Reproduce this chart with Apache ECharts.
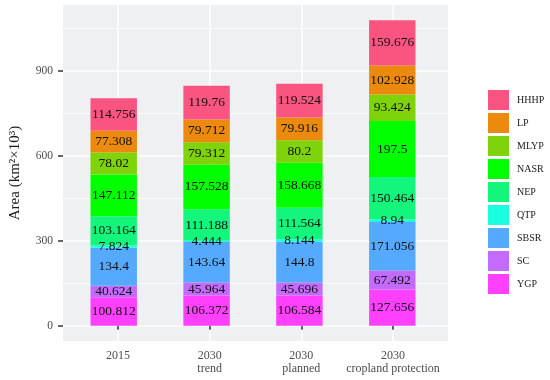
<!DOCTYPE html>
<html>
<head>
<meta charset="utf-8">
<script src="https://cdn.jsdelivr.net/npm/echarts@6/dist/echarts.min.js"></script>
<style>html,body{margin:0;padding:0;background:#fff}#c{width:550px;height:380px}</style>
</head>
<body>
<div id="c"></div>
<script>
const categories = ['2015', '2030\ntrend', '2030\nplanned', '2030\ncropland protection'];
const yTicks = [0, 300, 600, 900];
const yMinor = [150, 450, 750, 1050];
// stack order bottom -> top
const YGP  = [100.812, 106.372, 106.584, 127.656];
const SC   = [40.624, 45.964, 45.696, 67.492];
const SBSR = [134.4, 143.64, 144.8, 171.056];
const QTP  = [7.824, 4.444, 8.144, 8.94];
const NEP  = [103.164, 111.188, 111.564, 150.464];
const NASR = [147.112, 157.528, 158.668, 197.5];
const MLYP = [78.02, 79.312, 80.2, 93.424];
const LP   = [77.308, 79.712, 79.916, 102.928];
const HHHP = [114.756, 119.76, 119.524, 159.676];

const seriesDefs = [
  ['YGP', YGP, '#FF40FF'],
  ['SC', SC, '#C46BFF'],
  ['SBSR', SBSR, '#55AAFF'],
  ['QTP', QTP, '#1AFFE0'],
  ['NEP', NEP, '#14F57C'],
  ['NASR', NASR, '#00FF00'],
  ['MLYP', MLYP, '#7ED30A'],
  ['LP', LP, '#EB8A0C'],
  ['HHHP', HHHP, '#FA5480']
];

const serif = "'Liberation Serif', 'DejaVu Serif', serif";
const totals = categories.map((c, i) => seriesDefs.reduce((s, d) => s + d[1][i], 0));
const maxT = Math.max(...totals);
const yMin = -0.05 * maxT, yMax = maxT * 1.05;

// panel geometry (ggplot-like discrete expansion of 0.6 on each side)
const P = { left: 58, right: 102, top: 5, bottom: 39 };
const panelW = 550 - P.left - P.right;
const band = panelW / (categories.length + 0.2);
const inset = 0.1 * band;

const chart = echarts.init(document.getElementById('c'));
chart.setOption({
  animation: false,
  backgroundColor: '#fff',
  grid: [
    { left: P.left, right: P.right, top: P.top, bottom: P.bottom, show: true, backgroundColor: '#EEF0F1', borderWidth: 0 },
    { left: P.left + inset, right: P.right + inset, top: P.top, bottom: P.bottom }
  ],
  xAxis: [{
    gridIndex: 0, type: 'value', min: 0.4, max: 4.6,
    axisLine: { show: false },
    axisTick: { show: true, length: 4, lineStyle: { color: '#333', width: 1.5 }, customValues: [1, 2, 3, 4] },
    axisLabel: { customValues: [1, 2, 3, 4], formatter: v => categories[Math.round(v) - 1], color: '#4D4D4D', fontFamily: serif, fontSize: 12, lineHeight: 13, margin: 8 },
    splitLine: { show: true, lineStyle: { color: '#fff', width: 1.5 } }
  }, {
    gridIndex: 1, type: 'category', data: categories,
    axisLine: { show: false }, axisTick: { show: false }, axisLabel: { show: false }, splitLine: { show: false }
  }],
  yAxis: [{
    gridIndex: 0, type: 'value', min: yMin, max: yMax,
    name: 'Area (km²×10³)', nameLocation: 'middle', nameGap: 40,
    nameTextStyle: { fontFamily: serif, fontSize: 15, color: '#1a1a1a' },
    axisLine: { show: false },
    axisTick: { show: true, length: 5, lineStyle: { color: '#333', width: 1.5 }, customValues: yTicks },
    axisLabel: { customValues: yTicks, color: '#4D4D4D', fontFamily: serif, fontSize: 11.5, margin: 10 },
    splitLine: { show: true, lineStyle: { color: '#fff', width: 1.5 } }
  }, {
    gridIndex: 0, type: 'value', min: yMin, max: yMax, position: 'left',
    axisLine: { show: false },
    axisTick: { show: false, customValues: yMinor },
    axisLabel: { show: false, customValues: yMinor },
    splitLine: { show: true, lineStyle: { color: '#fff', width: 0.7 } }
  }, {
    gridIndex: 1, type: 'value', min: yMin, max: yMax,
    axisLine: { show: false }, axisTick: { show: false }, axisLabel: { show: false }, splitLine: { show: false }
  }],
  legend: {
    orient: 'vertical', left: 483, top: 85,
    itemWidth: 21, itemHeight: 20, itemGap: 3, icon: 'rect',
    data: seriesDefs.map(d => d[0]).reverse(),
    textStyle: { fontFamily: serif, fontSize: 10, color: '#1a1a1a', padding: [0, 0, 0, 3] }
  },
  series: seriesDefs.map(d => ({
    name: d[0], type: 'bar', stack: 'total', barWidth: '50%',
    xAxisIndex: 1, yAxisIndex: 2,
    itemStyle: { color: d[2] },
    label: { show: true, position: 'inside', color: '#111', fontFamily: serif, fontSize: 13.5 },
    data: d[1]
  }))
});
</script>
</body>
</html>
